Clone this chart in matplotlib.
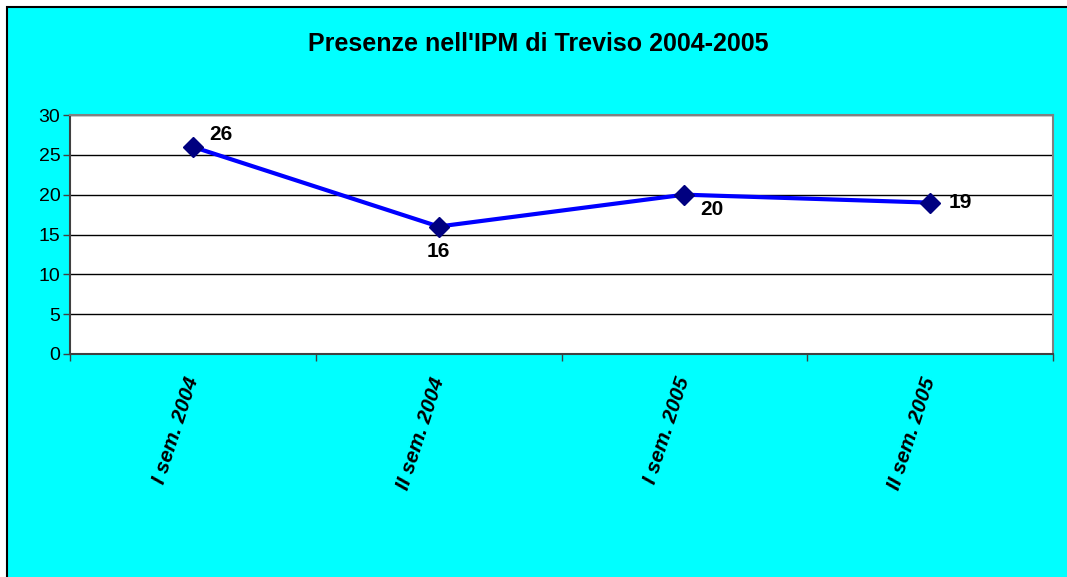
import matplotlib.pyplot as plt
from matplotlib.patches import Rectangle

plt.rcParams["font.family"] = ["Liberation Sans", "DejaVu Sans"]

categories = ["I sem. 2004", "II sem. 2004", "I sem. 2005", "II sem. 2005"]
presenze = [26, 16, 20, 19]
# label offsets in points (dx, dy), Excel-style placement
label_offsets = [(20, 9), (0, -18), (20, -11), (22, 0)]

fig = plt.figure(figsize=(10.67, 5.77), dpi=100, facecolor="white")
bg = Rectangle((7 / 1067, -0.1), 1.2, 1.1 - 7 / 577,
               transform=fig.transFigure, facecolor="#00FFFF",
               edgecolor="black", linewidth=1.5, zorder=-5)
fig.add_artist(bg)

ax = fig.add_axes([70 / 1067, 1 - 354 / 577, (1053 - 70) / 1067, (354 - 115) / 577])
ax.set_zorder(2)
ax.set_facecolor("white")
x = range(len(categories))
ax.plot(x, presenze, color="#0000FF", linewidth=3, zorder=3)
ax.plot(x, presenze, linestyle="none", marker="D", markersize=10,
        color="#000080", zorder=4)
for i, v in enumerate(presenze):
    dx, dy = label_offsets[i]
    ax.annotate(str(v), (i, v), xytext=(dx, dy), textcoords="offset points",
                ha="center", va="center", fontsize=15, fontweight="bold")

ax.set_xlim(-0.5, len(categories) - 0.5)
ax.set_ylim(0, 30)
ax.set_yticks(range(0, 31, 5))
ax.tick_params(axis="y", labelsize=14, length=5, width=1, color="#404040", pad=2)
ax.yaxis.grid(True, color="black", linewidth=1)
ax.set_axisbelow(True)

ax.set_xticks([i + 0.5 for i in range(len(categories) - 1)] + [-0.5, len(categories) - 0.5])
ax.set_xticklabels([])
ax.tick_params(axis="x", length=5, width=1, color="#404040")
for i, c in enumerate(categories):
    ax.text(i, -0.1, c, transform=ax.get_xaxis_transform(), rotation=72,
            rotation_mode="anchor", ha="right", va="center", fontsize=15,
            fontweight="bold", style="italic")

for side in ["top", "right"]:
    ax.spines[side].set_color("#808080")
    ax.spines[side].set_linewidth(1.5)
for side in ["left", "bottom"]:
    ax.spines[side].set_color("#404040")
    ax.spines[side].set_linewidth(1.5)

fig.text(538 / 1067, 1 - 44 / 577, "Presenze nell'IPM di Treviso 2004-2005",
         ha="center", va="center", fontsize=18, fontweight="bold")

fig.savefig("out.png", dpi=100, facecolor=fig.get_facecolor())
